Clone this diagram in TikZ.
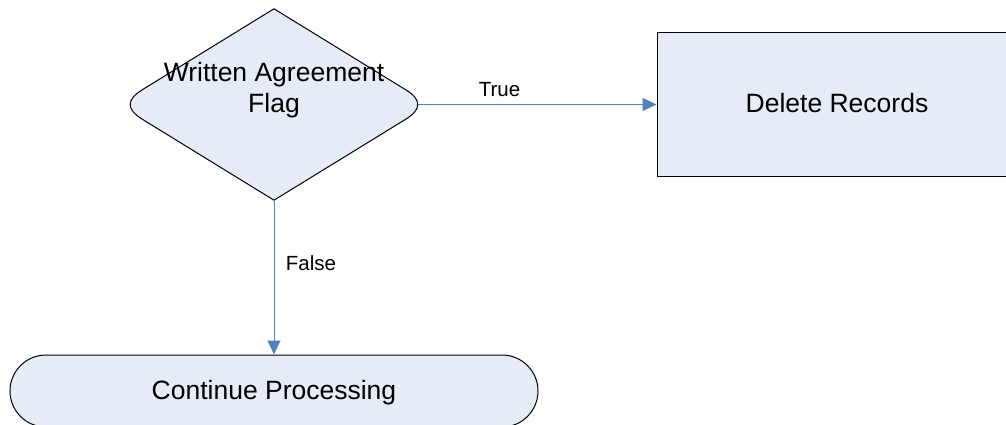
\documentclass[tikz,border=0pt]{standalone}
\usepackage{fontspec}
\setmainfont{Liberation Sans}
\usetikzlibrary{arrows.meta,calc}
\definecolor{shapefill}{HTML}{E6ECF7}
\definecolor{connblue}{HTML}{4F81BD}
\tikzset{
  shapeline/.style={draw=black, line width=1pt, fill=shapefill},
  conn/.style={draw=connblue, line width=1pt, -{Triangle[length=14pt,width=13pt]}},
  bigtext/.style={font=\fontsize{26.5}{31.3}\selectfont, inner sep=0pt},
  lbl/.style={font=\fontsize{20.5}{24}\selectfont, inner sep=0pt, anchor=base},
}
\begin{document}
\begin{tikzpicture}[x=1pt,y=-1pt]
\clip (0,0) rectangle (1006,425);
\fill[white] (0,0) rectangle (1006,425);
% decision diamond (frame node, drawn with rounded side tips)
\node[minimum width=311pt, minimum height=191pt, inner sep=0pt, draw=none] (d) at (274,104.5) {};
\draw[shapeline] (d.north) -- ($(d.east)!28pt!(d.north)$)
  .. controls ($(d.east)!9.33pt!(d.north)$) and ($(d.east)!9.33pt!(d.south)$) .. ($(d.east)!28pt!(d.south)$)
  -- (d.south) -- ($(d.west)!28pt!(d.south)$)
  .. controls ($(d.west)!9.33pt!(d.south)$) and ($(d.west)!9.33pt!(d.north)$) .. ($(d.west)!28pt!(d.north)$) -- cycle;
\node[bigtext, align=center] (dtxt) at (274,90) {Written Agreement\\Flag};
\coordinate (dE) at ($(d.east)+(-11.9,0)$);
% process box
\node[shapeline, bigtext, minimum width=360pt, minimum height=143pt, text height=17pt, text depth=0pt] (rec) at (837,104.5) {Delete Records};
% terminal
\node[shapeline, bigtext, rounded corners=36pt, minimum width=528pt, minimum height=72pt, text height=16pt, text depth=0pt] (term) at (274,391) {Continue Processing};
% connectors
\draw[conn] (dE) -- (rec.west);
\draw[conn] (d.south) -- (term.north);
\node[lbl] (ltrue) at (499.5,97) {True};
\node[lbl] (lfalse) at (311,270) {False};
\end{tikzpicture}
\end{document}
